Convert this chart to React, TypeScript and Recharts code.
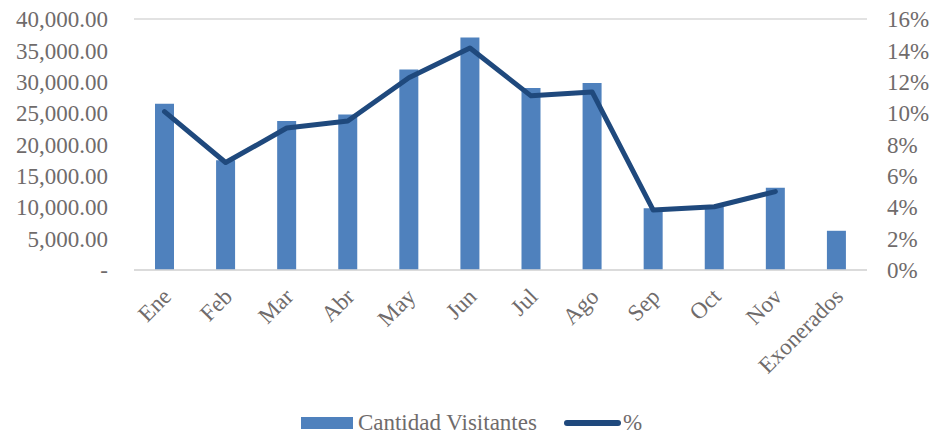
import {
  ComposedChart,
  Bar,
  Line,
  XAxis,
  YAxis,
  CartesianGrid,
  Legend,
} from 'recharts'

const months = ['Ene', 'Feb', 'Mar', 'Abr', 'May', 'Jun', 'Jul', 'Ago', 'Sep', 'Oct', 'Nov', 'Exonerados']
const visitantes = [26500, 17500, 23750, 24800, 31950, 37050, 29000, 29800, 9850, 10100, 13100, 6250]
const porcentaje: (number | null)[] = [10.1, 6.85, 9.05, 9.5, 12.25, 14.15, 11.1, 11.35, 3.82, 4.03, 5.0, null]
const leftTicks = [0, 5000, 10000, 15000, 20000, 25000, 30000, 35000, 40000]
const rightTicks = [0, 2, 4, 6, 8, 10, 12, 14, 16]

const data = months.map((name, i) => ({
  name,
  visitantes: visitantes[i],
  pct: porcentaje[i],
}))

const FONT = '"Liberation Serif", "Times New Roman", serif'
const GREY = '#6F6B6B'
const BAR = '#4F81BD'
const LINE = '#1F497D'

const fmtLeft = (v: number) =>
  v === 0 ? '-' : v.toLocaleString('en-US', { minimumFractionDigits: 2, maximumFractionDigits: 2 })

function MonthTick(props: any) {
  const { x, y, payload } = props
  return (
    <text
      transform={`translate(${x + 8}, ${y + 20}) rotate(-45)`}
      textAnchor="end"
      fill={GREY}
      fontSize={23}
      fontFamily={FONT}
    >
      {payload.value}
    </text>
  )
}

function LegendBox() {
  return (
    <div
      style={{
        height: 49,
        display: 'flex',
        alignItems: 'center',
        justifyContent: 'center',
        fontFamily: FONT,
        fontSize: 23,
        color: GREY,
        paddingTop: 17,
        boxSizing: 'border-box',
        marginLeft: 8,
      }}
    >
      <span style={{ width: 52, height: 12, background: BAR, marginRight: 5 }} />
      <span style={{ marginRight: 27 }}>Cantidad Visitantes</span>
      <span style={{ width: 57, height: 6, borderRadius: 3, background: LINE, marginRight: 2 }} />
      <span>%</span>
    </div>
  )
}

export default function App() {
  return (
    <div style={{ position: 'absolute', left: 0, top: 0, background: '#fff' }}>
      <ComposedChart
        width={935}
        height={439}
        data={data}
        margin={{ top: 19, right: 0, left: 0, bottom: 0 }}
      >
        <CartesianGrid vertical={false} stroke="#D9D9D9" strokeWidth={1.3} />
        <XAxis
          dataKey="name"
          interval={0}
          height={120}
          axisLine={{ stroke: '#D9D9D9', strokeWidth: 1.3 }}
          tickLine={false}
          tick={<MonthTick />}
        />
        <YAxis
          yAxisId="left"
          width={134}
          domain={[0, 40000]}
          ticks={leftTicks}
          tickFormatter={fmtLeft}
          axisLine={false}
          tickLine={false}
          tickSize={0}
          tickMargin={26}
          tick={{ fill: GREY, fontSize: 23, fontFamily: FONT }}
        />
        <YAxis
          yAxisId="right"
          orientation="right"
          width={68}
          domain={[0, 16]}
          ticks={rightTicks}
          tickFormatter={(v: number) => `${v}%`}
          axisLine={false}
          tickLine={false}
          tickSize={0}
          tickMargin={20}
          tick={{ fill: GREY, fontSize: 23, fontFamily: FONT, textAnchor: 'start' }}
        />
        <Legend verticalAlign="bottom" height={49} content={<LegendBox />} />
        <Bar
          yAxisId="left"
          dataKey="visitantes"
          name="Cantidad Visitantes"
          fill={BAR}
          barSize={19}
          isAnimationActive={false}
        />
        <Line
          yAxisId="right"
          dataKey="pct"
          name="%"
          stroke={LINE}
          strokeWidth={5}
          dot={false}
          type="linear"
          strokeLinejoin="round"
          strokeLinecap="round"
          isAnimationActive={false}
        />
      </ComposedChart>
    </div>
  )
}
